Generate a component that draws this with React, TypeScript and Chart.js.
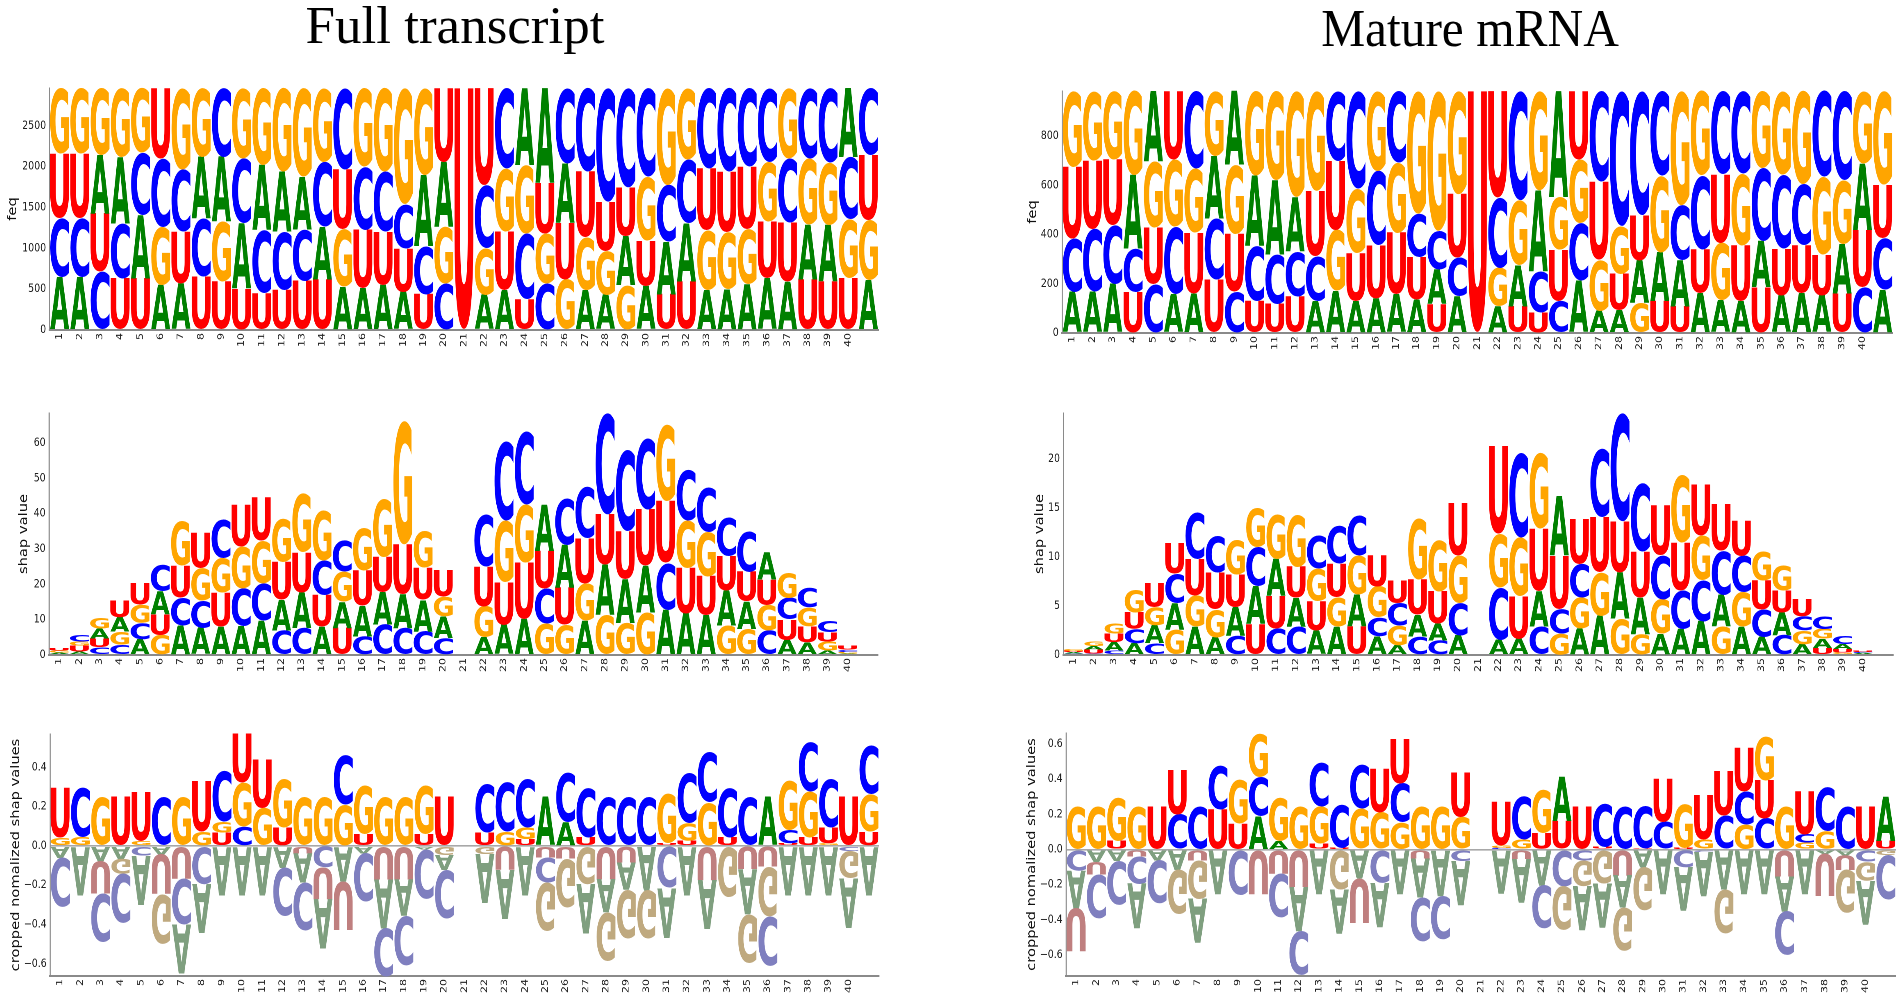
import React, { useEffect, useRef } from "react";
import { Chart, registerables } from "chart.js";

Chart.register(...registerables);

const positions = [...Array.from({ length: 40 }, (_, i) => String(i + 1)), ""];

const freqFullLetters = ["ACUG","ACUG","CUAG","UCAG","UACG","AGCU","AUCG","UCAG","UGAC","UACG","UCAG","UCAG","UCAG","UACG","AGUC","AUCG","AUCG","AUCG","UCAG","CGAU","U","AGCU","AUGC","UCGA","CGUA","GUAC","AGUC","AGUC","GAUC","AUGC","UACG","UACG","AGUC","AGUC","AGUC","AUGC","AUCG","UAGC","UAGC","UGCA","AGUC"];
const freqFullHeights = [[650,720,790,805],[650,720,790,805],[714,714,715,822],[633,673,816,843],[633,775,763,794],[551,714,837,863],[571,633,763,998],[653,714,755,843],[592,735,795,843],[510,796,796,863],[449,775,796,945],[490,714,735,1026],[600,633,645,1087],[620,645,796,904],[531,702,734,998],[510,714,776,965],[551,653,735,1026],[469,531,543,1422],[437,592,869,1067],[571,694,796,904],[2965],[429,571,776,1189],[490,714,776,985],[376,808,836,945],[571,613,620,1161],[620,694,727,924],[490,645,804,1026],[429,542,600,1394],[551,600,596,1218],[539,555,784,1087],[437,645,694,1189],[592,714,784,875],[490,734,756,985],[498,698,743,1026],[563,670,767,965],[633,694,734,904],[592,722,788,863],[620,666,816,863],[592,694,767,912],[633,722,767,843],[612,735,796,822]];

const shapFullLetters = ["CAGU","AUGC","CUAG","CGAU","ACGU","GUAC","ACUG","ACGU","AUGC","ACGU","ACGU","CAUG","CAUG","AUCG","UAGC","CAUG","CAUG","CAUG","CAUG","CAGU","","AGUC","AUGC","AUGC","GCUA","GUAC","AGUC","GAUC","GAUC","GAUC","ACUG","AUGC","AUGC","GAUC","GAUC","CGUA","AUCG","AUGC","AGUC","AGCU",""];
const shapFullHeights = [[0.3,0.4,0.5,0.7],[0.9,1.7,1.2,1.9],[2.2,2.5,2.7,3],[2.9,3.7,4.1,4.7],[4.5,4.6,5.2,6],[5.7,5.9,6.5,7.5],[8.3,7.9,9.1,12.6],[7.7,7.7,9.2,9.9],[8,9.6,9.8,10.9],[8.2,10.7,11.8,11.9],[9.7,10.6,12.1,12.3],[6.9,8.7,10.7,12.3],[7.7,10.1,11.3,16.6],[8,9,9.7,14.2],[7.7,7.4,8.5,8.8],[5.3,8.7,9.9,12.1],[8.6,9.2,9.9,16.5],[7.7,9.6,14,35],[6.7,8.9,9.1,10.4],[4.8,6.1,5.6,7.6],[],[5,8.8,11.3,14.7],[8.5,12.1,17.5,22.4],[10.2,15.9,16.5,20.7],[8.8,9.9,10.7,13.1],[8.5,10.5,12.2,13.3],[9.7,10.6,12.8,14.6],[11.4,14.2,14.2,28.7],[9.1,12.4,13.6,23],[12.1,13.2,15.9,20.2],[12.8,13.3,17.5,21.6],[11.8,12.9,13.4,14.4],[11.2,11,12.6,12.7],[8.3,9.9,9.8,11],[7.4,7.8,8.4,11.4],[6.9,7.3,7.2,7.7],[4.3,5.7,6.2,7.1],[3.6,4.5,5.4,5.5],[1.2,2.6,2.6,3.3],[0.4,0.5,0.6,1.1],[]];

const normFullUpLetters = ["GU","GC","G","U","GU","C","G","GU","UGC","CGU","GU","UG","G","G","GC","UG","G","G","UG","U","","UC","GC","UGC","A","AC","UC","C","C","C","UG","UGC","GC","UC","C","A","UCG","UGC","GUC","U","UGC"];
const normFullUpHeights = [[0.043,0.252],[0.045,0.25],[0.25],[0.25],[0.025,0.25],[0.25],[0.25],[0.073,0.256],[0.068,0.056,0.259],[0.1,0.224,0.25],[0.193,0.247],[0.095,0.247],[0.25],[0.25],[0.21,0.25],[0.06,0.247],[0.25],[0.25],[0.06,0.247],[0.25],[],[0.068,0.247],[0.073,0.252],[0.034,0.06,0.248],[0.25],[0.121,0.25],[0.044,0.25],[0.25],[0.25],[0.25],[0.014,0.25],[0.027,0.089,0.255],[0.223,0.254],[0.044,0.25],[0.25],[0.25],[0.014,0.068,0.25],[0.043,0.235,0.25],[0.014,0.08,0.248],[0.25],[0.073,0.191,0.249]];
const normFullDownLetters = ["AC","A","AUC","AGC","CA","AUG","UCA","CA","A","A","A","AC","UAC","CUA","AU","AC","UAC","UAC","AC","GAC","","GA","UA","A","UCG","UG","GA","UAG","UAG","AG","CA","A","UA","G","UAG","UGC","A","A","A","CGA","A"];
const normFullDownHeights = [[0.06,0.25],[0.25],[0.077,0.165,0.247],[0.066,0.074,0.25],[0.05,0.25],[0.043,0.204,0.25],[0.165,0.235,0.25],[0.194,0.25],[0.25],[0.25],[0.25],[0.11,0.248],[0.037,0.149,0.244],[0.109,0.161,0.253],[0.18,0.246],[0.037,0.248],[0.17,0.247,0.248],[0.17,0.186,0.252],[0.017,0.25],[0.046,0.077,0.247],[],[0.041,0.249],[0.123,0.247],[0.25],[0.058,0.128,0.248],[0.066,0.249],[0.194,0.252],[0.169,0.17,0.247],[0.085,0.14,0.247],[0.225,0.247],[0.216,0.251],[0.25],[0.174,0.247],[0.259],[0.119,0.229,0.248],[0.106,0.252,0.25],[0.25],[0.25],[0.25],[0.026,0.139,0.252],[0.25]];

const freqMatureLetters = ["ACUG","ACUG","ACUG","UCAG","CUGA","ACGU","AUGC","UCAG","CUGA","UCAG","UCAG","UCAG","ACUG","AGUC","AUGC","AUCG","AUGC","AUCG","UACG","ACUG","U","AGCU","UAGC","UCAG","CUGA","ACGU","AGUC","AUGC","GAUC","UAGC","UACG","AUCG","AGUC","AUGC","UACG","AUCG","AUCG","AUGC","UAGC","CUAG","ACUG"];
const freqMatureHeights = [[167,217,291,309],[167,257,278,282],[198,240,268,278],[167,176,298,343],[198,229,271,286],[157,274,274,279],[160,247,261,316],[217,248,254,265],[169,235,282,298],[130,223,286,345],[119,200,302,363],[149,183,221,431],[130,182,266,406],[171,249,280,284],[130,195,262,397],[140,217,302,325],[157,250,286,291],[136,173,176,499],[117,141,157,569],[149,156,259,420],[984],[108,156,287,433],[108,167,265,444],[85,167,328,404],[130,209,214,431],[212,235,258,279],[90,208,316,370],[92,149,194,549],[122,174,183,505],[130,197,312,345],[108,188,223,465],[163,177,301,343],[133,233,279,339],[130,227,291,336],[187,187,297,313],[153,190,301,340],[163,194,248,379],[153,166,316,349],[160,201,260,363],[187,231,271,295],[176,210,217,381]];

const shapMatureLetters = ["CAUG","CUAG","CAUG","ACUG","CAGU","GACU","AGUC","AGUC","CAUG","UACG","CUAG","CAUG","AUGC","AGUC","UAGC","ACGU","AGCU","CAUG","CAUG","ACGU","","ACGU","AUGC","CAUG","GCUA","AGCU","AGUC","GAUC","GAUC","AGCU","ACUG","ACGU","GACU","AGCU","ACUG","CAUG","AGCU","UAGC","GUAC","GACU",""];
const shapMatureHeights = [[0.15,0.15,0.1,0.2],[0.15,0.4,0.35,0.5],[0.45,0.85,0.85,1.05],[1.2,1.45,1.7,2.25],[1.2,1.85,1.85,2.45],[2.55,2.75,3,3.1],[2.9,3.15,3.75,4.8],[1.8,2.85,3.75,3.7],[2,2.9,3.3,3.5],[3.15,3.85,4,4],[2.7,3.3,3.8,4.55],[2.9,2.95,3.15,5.35],[2.5,3,3.3,3.4],[2.9,3,3.4,3.9],[2.9,3.25,4,4.1],[1.9,1.95,3.15,3.15],[1,2,2.3,2.3],[1.9,2.2,3.6,6.2],[1.5,1.7,3.3,5.25],[2,3.3,4.85,5.35],[],[1.55,5.35,5.45,8.95],[1.65,4.35,6,8.65],[2.9,3.6,6.4,7.75],[2.2,2.5,5.45,6.05],[2.7,3.15,3.45,4.6],[4,4.45,5.65,7],[3.7,4.7,5.25,11.05],[2.15,3.75,4.7,7],[2.15,3.55,4.5,5.1],[2.65,3.95,4.9,6.9],[3.45,4.2,4.55,5.2],[2.9,3.25,4.5,4.75],[2.9,3.5,3.7,3.6],[1.85,2.8,2.95,2.95],[2.05,2.3,2.25,2.55],[1.1,1.4,1.45,1.75],[0.7,0.95,1,1.3],[0.25,0.35,0.5,0.8],[0.1,0.1,0.1,0.15],[]];

const normMatureUpLetters = ["G","G","UG","G","U","CU","C","UC","UG","ACG","AG","G","UGC","UC","GC","GU","GCU","G","G","GU","","CGU","GC","UG","UA","U","UC","C","UC","CU","UG","GU","CU","GCU","CUG","G","GCU","GC","C","U","UA"];
const normMatureUpHeights = [[0.247],[0.247],[0.049,0.247],[0.247],[0.247],[0.199,0.253],[0.247],[0.23,0.25],[0.148,0.25],[0.19,0.224,0.246],[0.049,0.245],[0.247],[0.034,0.213,0.252],[0.011,0.245],[0.233,0.251],[0.211,0.25],[0.154,0.222,0.252],[0.247],[0.247],[0.186,0.252],[],[0.01,0.015,0.25],[0.057,0.248],[0.095,0.247],[0.163,0.251],[0.247],[0.015,0.247],[0.247],[0.008,0.244],[0.157,0.247],[0.01,0.252],[0.059,0.254],[0.195,0.251],[0.142,0.19,0.249],[0.176,0.219,0.25],[0.247],[0.038,0.049,0.245],[0.106,0.251],[0.247],[0.247],[0.049,0.251]];
const normMatureDownLetters = ["CAU","AUC","AC","UCA","AC","AG","UGA","A","C","U","UC","UAC","A","GA","AU","CA","A","UAC","AC","CA","","A","UA","AC","CG","CGA","GA","UAG","AG","A","CA","CA","AG","A","A","UAC","A","AU","AUG","CGA","GC"];
const normMatureDownHeights = [[0.118,0.214,0.245],[0.07,0.072,0.251],[0.065,0.252],[0.038,0.156,0.256],[0.061,0.246],[0.114,0.254],[0.061,0.218,0.251],[0.254],[0.26],[0.254],[0.137,0.25],[0.213,0.25,0.252],[0.254],[0.228,0.25],[0.165,0.251],[0.19,0.25],[0.254],[0.051,0.222,0.249],[0.264,0.248],[0.065,0.252],[],[0.25],[0.055,0.249],[0.203,0.247],[0.209,0.25],[0.061,0.146,0.252],[0.194,0.252],[0.146,0.184,0.247],[0.099,0.246],[0.254],[0.099,0.246],[0.013,0.253],[0.228,0.25],[0.254],[0.254],[0.152,0.199,0.251],[0.254],[0.023,0.243],[0.032,0.082,0.247],[0.07,0.108,0.249],[0.032,0.253]];

const freqFullTicks = [0, 500, 1000, 1500, 2000, 2500];
const shapFullTicks = [0, 10, 20, 30, 40, 50, 60];
const normFullTicks = [-0.6, -0.4, -0.2, 0, 0.2, 0.4];
const freqMatureTicks = [0, 200, 400, 600, 800];
const shapMatureTicks = [0, 5, 10, 15, 20];
const normMatureTicks = [-0.6, -0.4, -0.2, 0, 0.2, 0.4, 0.6];

const upColors: Record<string, string> = { A: "#008000", C: "#0000ff", G: "#ffa500", U: "#ff0000" };
const downColors: Record<string, string> = { A: "#7f9f7f", C: "#7f7fbf", G: "#bfa97f", U: "#bf7f7f" };

const SQUEEZE = 0.82;
const LETTER_FONT = 'bold 200px "DejaVu Sans"';

const logoPlugin = {
  id: "logoLetters",
  afterDatasetsDraw(chart: any) {
    const ctx = chart.ctx;
    chart.data.datasets.forEach((ds: any, di: number) => {
      const meta = chart.getDatasetMeta(di);
      meta.data.forEach((bar: any, i: number) => {
        const letter = ds.letters[i];
        const value = ds.data[i];
        if (!letter || !value) return;
        const { x, y, base, width } = bar.getProps(["x", "y", "base", "width"], true);
        const top = Math.min(y, base);
        const h = Math.abs(base - y);
        ctx.save();
        ctx.font = LETTER_FONT;
        ctx.textBaseline = "alphabetic";
        ctx.textAlign = "left";
        const m = ctx.measureText(letter);
        const gw = m.actualBoundingBoxRight + m.actualBoundingBoxLeft;
        const gh = m.actualBoundingBoxAscent + m.actualBoundingBoxDescent;
        const below = value < 0;
        ctx.fillStyle = below ? downColors[letter] : upColors[letter];
        ctx.translate(x - width / 2, below ? top + h : top);
        ctx.scale(width / gw, (below ? -1 : 1) * (h / gh));
        ctx.fillText(letter, m.actualBoundingBoxLeft, m.actualBoundingBoxAscent);
        ctx.restore();
      });
    });
  },
};

type Panel = {
  left: number; right: number; top: number; bottom: number;
  yMin: number; yMax: number; ticks: number[]; digits: number;
  title: string; titleOffset: number;
  upLetters: string[]; upHeights: number[][];
  downLetters?: string[]; downHeights?: number[][];
};

const panels: Panel[] = [
  { left: 49, right: 878, top: 88, bottom: 330, yMin: 0, yMax: 2965, ticks: freqFullTicks, digits: 0, title: "feq", titleOffset: 36, upLetters: freqFullLetters, upHeights: freqFullHeights },
  { left: 49, right: 878, top: 412.7, bottom: 654.3, yMin: 0, yMax: 68.5, ticks: shapFullTicks, digits: 0, title: "shap value", titleOffset: 25, upLetters: shapFullLetters, upHeights: shapFullHeights },
  { left: 50, right: 879, top: 734, bottom: 976, yMin: -0.662, yMax: 0.57, ticks: normFullTicks, digits: 1, title: "cropped nomalized shap values", titleOffset: 34, upLetters: normFullUpLetters, upHeights: normFullUpHeights, downLetters: normFullDownLetters, downHeights: normFullDownHeights },
  { left: 1062, right: 1893, top: 90.7, bottom: 332.7, yMin: 0, yMax: 984, ticks: freqMatureTicks, digits: 0, title: "feq", titleOffset: 29, upLetters: freqMatureLetters, upHeights: freqMatureHeights },
  { left: 1063, right: 1893, top: 412.7, bottom: 654.3, yMin: 0, yMax: 24.7, ticks: shapMatureTicks, digits: 0, title: "shap value", titleOffset: 23, upLetters: shapMatureLetters, upHeights: shapMatureHeights },
  { left: 1066, right: 1896, top: 732.7, bottom: 975.7, yMin: -0.719, yMax: 0.663, ticks: normMatureTicks, digits: 1, title: "cropped nomalized shap values", titleOffset: 34, upLetters: normMatureUpLetters, upHeights: normMatureUpHeights, downLetters: normMatureDownLetters, downHeights: normMatureDownHeights },
];

function layers(letters: string[], heights: number[][], sign: number) {
  const depth = Math.max(...heights.map((h) => h.length));
  return Array.from({ length: depth }, (_, k) => ({
    data: heights.map((h) => (h[k] === undefined ? 0 : sign * h[k])),
    letters: letters.map((s) => s[k] || ""),
    backgroundColor: "rgba(0,0,0,0)",
    borderWidth: 0,
    stack: "logo",
    barPercentage: 0.94,
    categoryPercentage: 1,
  }));
}

function LogoPanel({ panel }: { panel: Panel }) {
  const ref = useRef<HTMLCanvasElement | null>(null);
  const TOP_PAD = 12;
  const AXIS_H = 24;
  const gutter = Math.round(panel.titleOffset / SQUEEZE + 9);
  const plotW = (panel.right - panel.left) / SQUEEZE;
  const width = Math.round(gutter + plotW + 4);
  const height = Math.round(panel.bottom - panel.top + TOP_PAD + AXIS_H);

  useEffect(() => {
    const datasets: any[] = layers(panel.upLetters, panel.upHeights, 1);
    if (panel.downLetters && panel.downHeights) {
      datasets.push(...layers(panel.downLetters, panel.downHeights, -1));
    }
    const chart = new Chart(ref.current as HTMLCanvasElement, {
      type: "bar",
      data: { labels: positions, datasets },
      plugins: [logoPlugin],
      options: {
        animation: false,
        responsive: false,
        devicePixelRatio: 2,
        layout: { padding: { top: TOP_PAD, right: 4, left: 0, bottom: 0 } },
        plugins: { legend: { display: false }, tooltip: { enabled: false }, title: { display: false } },
        scales: {
          x: {
            stacked: true,
            afterFit: (s: any) => { s.height = AXIS_H; },
            grid: { display: false, drawTicks: false },
            border: { color: "#8a8a8a", width: 2 },
            ticks: { autoSkip: false, minRotation: 90, maxRotation: 90, padding: 3, color: "#222", font: { family: "DejaVu Sans", size: 11 } },
          },
          y: {
            stacked: true,
            min: panel.yMin,
            max: panel.yMax,
            afterFit: (s: any) => { s.width = gutter; },
            afterBuildTicks: (s: any) => { s.ticks = panel.ticks.map((value) => ({ value })); },
            grid: {
              drawTicks: false,
              lineWidth: 1.6,
              color: (c: any) => (c.tick && c.tick.value === 0 && panel.yMin < 0 ? "#a8a8a8" : "rgba(0,0,0,0)"),
            },
            border: { color: "#8a8a8a", width: 1.4 },
            title: { display: true, text: panel.title, color: "#111", padding: 0, font: { family: "DejaVu Sans", size: 14.7 } },
            ticks: {
              padding: 4,
              color: "#222",
              font: { family: "DejaVu Sans", size: 11.5 },
              callback: (v: any) => (Number(v) < 0 ? "\u2212" : "") + Math.abs(Number(v)).toFixed(panel.digits),
            },
          },
        },
      },
    } as any);
    return () => chart.destroy();
  }, []);

  return (
    <canvas
      ref={ref}
      width={width}
      height={height}
      style={{
        position: "absolute",
        left: panel.left - gutter * SQUEEZE,
        top: panel.top - TOP_PAD,
        width,
        height,
        transform: `scaleX(${SQUEEZE})`,
        transformOrigin: "0 0",
      }}
    />
  );
}

const titleStyle: React.CSSProperties = {
  position: "absolute",
  fontFamily: '"Liberation Serif", serif',
  fontSize: 52,
  lineHeight: "60px",
  color: "#000",
  whiteSpace: "nowrap",
};

export default function App() {
  return (
    <div style={{ position: "absolute", left: 0, top: 0, width: 1902, height: 996, overflow: "hidden", background: "#fff" }}>
      <div style={{ ...titleStyle, left: 455, top: -4, transform: "translateX(-50%) scaleX(1.02)" }}>Full transcript</div>
      <div style={{ ...titleStyle, left: 1470, top: -1, transform: "translateX(-50%) scaleX(0.95)" }}>Mature mRNA</div>
      {panels.map((p, i) => <LogoPanel key={i} panel={p} />)}
    </div>
  );
}
